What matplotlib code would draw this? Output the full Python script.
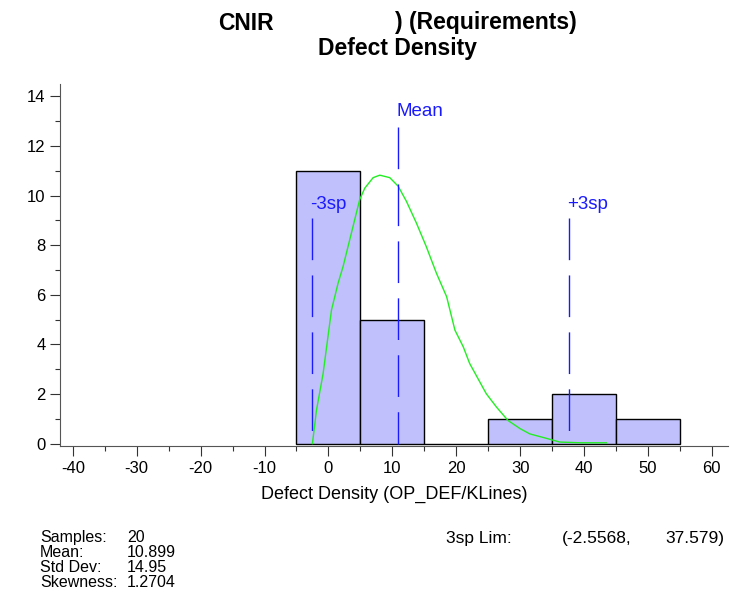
import numpy as np
import matplotlib
matplotlib.use("Agg")
import matplotlib.pyplot as plt
from matplotlib.ticker import MultipleLocator

plt.rcParams['font.family'] = ['Liberation Sans', 'DejaVu Sans']
plt.rcParams['axes.unicode_minus'] = False

# Histogram bins and counts
BIN_EDGES = [-5, 5, 15, 25, 35, 45, 55]
COUNTS = [11, 5, 0, 1, 2, 1]

# Fitted curve
CURVE_X = [-2.5, -1.87, -0.83, 0.48, 1.52, 2.3, 3.6, 4.9, 5.7, 7.0, 8.04,
           9.6, 10.9, 12.2, 13.77, 15.3, 16.9, 18.5, 19.8, 21.1, 22.1, 23.4,
           24.7, 26.3, 28.1, 30.0, 31.5, 34.1, 36.2, 39.4, 43.5]
CURVE_Y = [0.0, 1.34, 2.82, 5.38, 6.47, 7.14, 8.49, 9.84, 10.3, 10.72, 10.82,
           10.72, 10.38, 9.77, 8.89, 7.95, 6.87, 5.92, 4.57, 3.9, 3.23, 2.62,
           2.01, 1.47, 0.93, 0.6, 0.39, 0.21, 0.06, 0.03, 0.03]

# Reference lines: (label, x, line top, label y)
MEAN = 10.899
LOW_3SP = -2.5568
HIGH_3SP = 37.579
REF_LINES = [('Mean', MEAN, 12.75, 13.4),
             ('-3sp', LOW_3SP, 9.1, 9.65),
             ('+3sp', HIGH_3SP, 9.1, 9.65)]

STAT_NAMES = ['Samples:', 'Mean:', 'Std Dev:', 'Skewness:']
STAT_VALUES = ['20', '10.899', '14.95', '1.2704']

#-------------------------------------------------------------------------------

fig = plt.figure(figsize=(7.3, 5.95), dpi=100)
ax = fig.add_axes([0.0822, 0.2504, 0.9148, 0.6086])

widths = np.diff(BIN_EDGES)
ax.bar(BIN_EDGES[:-1], COUNTS, width=widths, align='edge',
       color='#c0c0fc', edgecolor='black', linewidth=1.0, zorder=1)

ax.plot(CURVE_X, CURVE_Y, color='#22ee22', linewidth=1.0, zorder=3)

for label, xv, top, ty in REF_LINES:
    ax.plot([xv, xv], [top, 0], color='#1a1aff', linewidth=1.0,
            dashes=(30, 11), zorder=4)
    ax.text(xv - 0.3, ty, label, color='#1a1aff', fontsize=13.5,
            ha='left', va='center', zorder=5)

ax.set_xlim(-42, 62.5)
ax.set_ylim(-0.1, 14.5)
ax.xaxis.set_major_locator(MultipleLocator(10))
ax.xaxis.set_minor_locator(MultipleLocator(5))
ax.yaxis.set_major_locator(MultipleLocator(2))
ax.yaxis.set_minor_locator(MultipleLocator(1))
ax.tick_params(which='major', length=7, width=0.8, labelsize=12, color='#333333')
ax.tick_params(which='minor', length=3.5, width=0.8, color='#333333')
for side in ['top', 'right']:
    ax.spines[side].set_visible(False)
for side in ['left', 'bottom']:
    ax.spines[side].set_color('#555555')

ax.set_xlabel('Defect Density (OP_DEF/KLines)', fontsize=13, labelpad=7)

fig.text(218 / 730, 1 - 23 / 595, 'CNIR', ha='left', va='center',
         fontsize=16.5, fontweight='bold')
fig.text(395 / 730, 1 - 23 / 595, ') (Requirements)', ha='left', va='center',
         fontsize=16.5, fontweight='bold')
fig.text(397 / 730, 1 - 48 / 595, 'Defect Density', ha='center', va='center',
         fontsize=16.5, fontweight='bold')

stat_font = dict(fontsize=11.5, va='top', linespacing=1.0)
fig.text(40 / 730, 1 - 530 / 595, '\n'.join(STAT_NAMES), ha='left', **stat_font)
fig.text(127 / 730, 1 - 530 / 595, '\n'.join(STAT_VALUES), ha='left', **stat_font)

lim_font = dict(fontsize=12.5, va='center')
fig.text(446 / 730, 1 - 538 / 595, '3sp Lim:', ha='left', **lim_font)
fig.text(562 / 730, 1 - 538 / 595, f'({LOW_3SP},', ha='left', **lim_font)
fig.text(724 / 730, 1 - 538 / 595, f'{HIGH_3SP})', ha='right', **lim_font)

fig.savefig('out.png', dpi=100)
